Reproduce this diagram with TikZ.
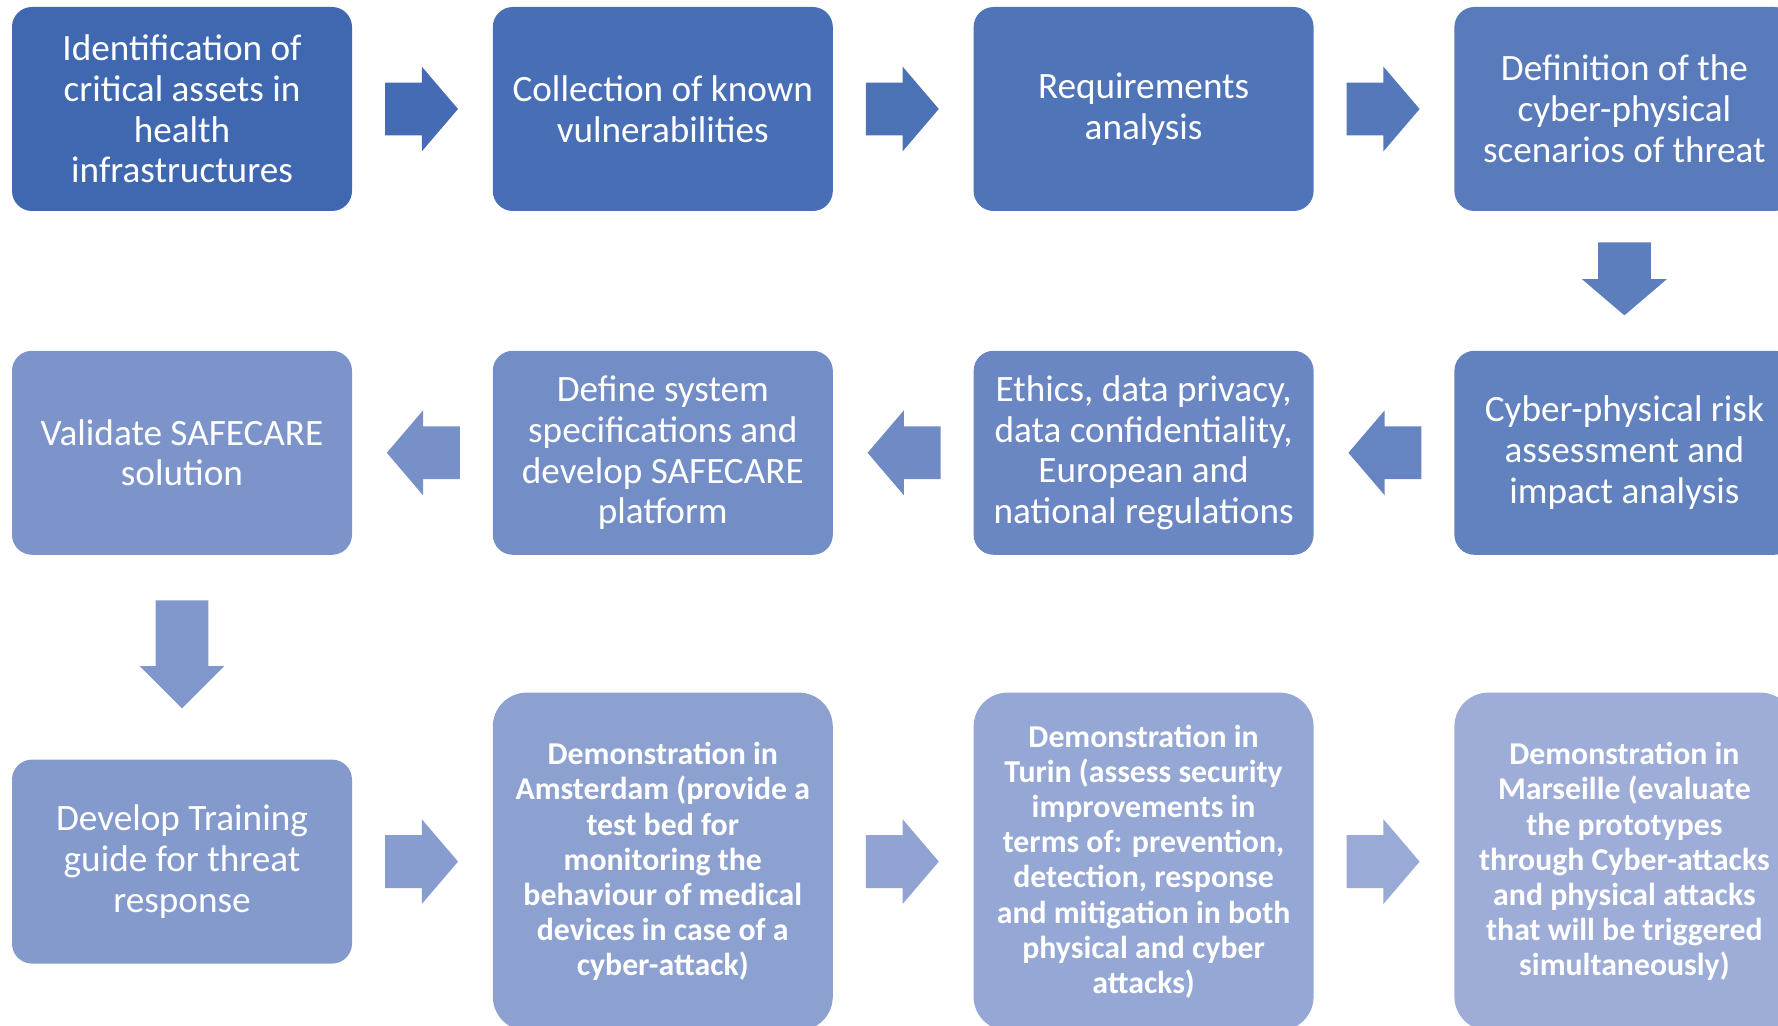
\documentclass[tikz,border=0pt]{standalone}
\usepackage{fontspec}
\setmainfont{Carlito}
\usepackage{xcolor}
\usepackage{tikz}
\usetikzlibrary{shapes,arrows,positioning}

\definecolor{boxstart}{RGB}{63,104,177}
\definecolor{boxend}{RGB}{158,173,216}

\begin{document}
\begin{tikzpicture}[x=0.5pt, y=-0.5pt]
  % Define styles
  \tikzstyle{stage} = [rectangle, fill=boxend!#1!boxstart, text=white, align=center, rounded corners=10pt, minimum width=170pt, minimum height=102pt, inner sep=0pt, font=\fontsize{18.6pt}{20.4pt}\selectfont]
  \tikzstyle{demo} = [stage=#1, rounded corners=17pt, minimum height=169pt, font=\bfseries\fontsize{15.9pt}{17.6pt}\selectfont]
  \tikzstyle{flow} = [single arrow, fill=boxend!#1!boxstart, inner xsep=0pt, inner ysep=13pt, minimum height=36.5pt, minimum width=42pt, single arrow head extend=8pt, single arrow tip angle=99, anchor=tail, pos=0.23]
  \tikzstyle{back} = [shape border rotate=180]
  \tikzstyle{down} = [shape border rotate=270, inner xsep=13pt, inner ysep=0pt, pos=0.22]

  \useasboundingbox (0,0) rectangle (1778,1026);
  \clip (0,0) rectangle (1778,1026);

  % First row, left to right
  \node [stage=0] (identify) at (182,109) {Identification of\\critical assets in\\health\\infrastructures};
  \node [stage=9, right=70pt of identify] (collect) {Collection of known\\vulnerabilities};
  \node [stage=18, right=70pt of collect] (require) {Requirements\\analysis};
  \node [stage=27, right=70pt of require] (scenario) {Definition of the\\cyber-physical\\scenarios of threat};

  % Second row, right to left
  \node [stage=36, below=69.5pt of scenario] (risk) {Cyber-physical risk\\assessment and\\impact analysis};
  \node [stage=45, left=70pt of risk] (ethics) {Ethics, data privacy,\\data confidentiality,\\European and\\national regulations};
  \node [stage=55, left=70pt of ethics] (specify) {Define system\\specifications and\\develop SAFECARE\\platform};
  \node [stage=64, left=70pt of specify] (validate) {Validate SAFECARE\\solution};

  % Third row, left to right
  \node [stage=73, below=102pt of validate] (training) {Develop Training\\guide for threat\\response};
  \node [demo=82, right=70pt of training] (amsterdam) {Demonstration in\\Amsterdam (provide a\\test bed for\\monitoring the\\behaviour of medical\\devices in case of a\\cyber-attack)};
  \node [demo=91, right=70pt of amsterdam] (turin) {Demonstration in\\Turin (assess security\\improvements in\\terms of: prevention,\\detection, response\\and mitigation in both\\physical and cyber\\attacks)};
  \node [demo=100, right=70pt of turin] (marseille) {Demonstration in\\Marseille (evaluate\\the prototypes\\through Cyber-attacks\\and physical attacks\\that will be triggered\\simultaneously)};

  % Block arrows between the stages
  \path (identify) -- node [flow=5] {} (collect);
  \path (collect) -- node [flow=14] {} (require);
  \path (require) -- node [flow=23] {} (scenario);
  \path (scenario) -- node [flow=32, down] {} (risk);
  \path (risk) -- node [flow=41, back] {} (ethics);
  \path (ethics) -- node [flow=50, back] {} (specify);
  \path (specify) -- node [flow=59, back] {} (validate);
  \path (validate) -- node [flow=68, down, minimum height=54pt, single arrow tip angle=90] {} (training);
  \path (training) -- node [flow=77] {} (amsterdam);
  \path (amsterdam) -- node [flow=86] {} (turin);
  \path (turin) -- node [flow=95] {} (marseille);

\end{tikzpicture}
\end{document}
